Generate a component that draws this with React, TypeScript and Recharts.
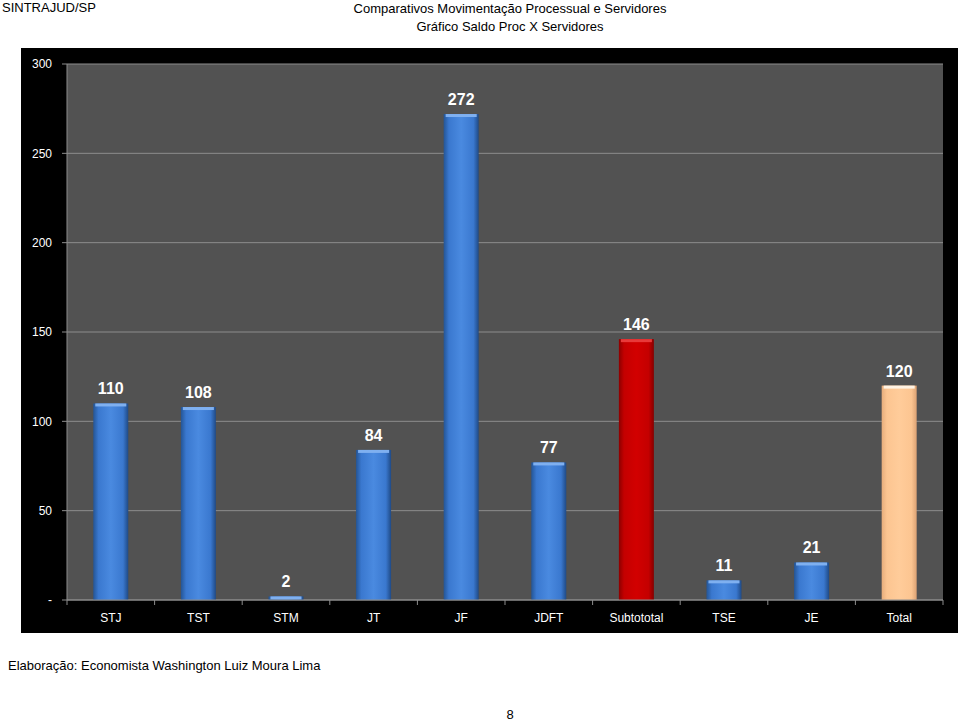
import React from 'react';
import { BarChart, Bar, XAxis, YAxis, CartesianGrid, Cell, LabelList } from 'recharts';

const categories = ['STJ', 'TST', 'STM', 'JT', 'JF', 'JDFT', 'Subtototal', 'TSE', 'JE', 'Total'];
const saldo = [110, 108, 2, 84, 272, 77, 146, 11, 21, 120];
const yTicks = [0, 50, 100, 150, 200, 250, 300];

const chartData = categories.map((name, i) => ({ name, saldo: saldo[i] }));

// gradient id per bar: red for the subtotal, peach for the total, blue otherwise
const gradFor = (name: string) =>
  name === 'Subtototal' ? 'gRed' : name === 'Total' ? 'gPeach' : 'gBlue';

const topFor = (name: string) =>
  name === 'Subtototal' ? '#e83a3a' : name === 'Total' ? '#fff3e4' : '#7fb0f0';

const font = '"Liberation Sans", Arial, sans-serif';

const BarShape = (props: any) => {
  const { x, y, width, height, payload } = props;
  if (!height || height <= 0) return null;
  return (
    <g>
      <rect x={x} y={y} width={width} height={height} fill={`url(#${gradFor(payload.name)})`} />
      <rect x={x + 2} y={y} width={Math.max(width - 4, 0)} height={Math.min(3, height)} fill={topFor(payload.name)} />
    </g>
  );
};

const BAND = (943 - 67) / categories.length;

const XTick = (props: any) => {
  const { x, y, payload, index } = props;
  return (
    <g>
      <line x1={x - BAND / 2} y1={y - 8} x2={x - BAND / 2} y2={y - 3} stroke="#8c8c8c" />
      {index === categories.length - 1 && (
        <line x1={x + BAND / 2} y1={y - 8} x2={x + BAND / 2} y2={y - 3} stroke="#8c8c8c" />
      )}
      <text x={x} y={y + 14} textAnchor="middle" fill="#ffffff" fontSize={12} fontFamily={font}>
        {payload.value}
      </text>
    </g>
  );
};

const App = () => (
  <div style={{ position: 'absolute', left: 0, top: 0, width: 960, height: 723, background: '#fff', fontFamily: font }}>
    <div style={{ position: 'absolute', left: 2, top: 0, fontSize: 13, color: '#000' }}>SINTRAJUD/SP</div>
    <div style={{ position: 'absolute', left: 0, width: 1020, top: 0, textAlign: 'center', fontSize: 13, color: '#000', lineHeight: '18px' }}>
      Comparativos Movimentação Processual e Servidores
      <br />
      Gráfico Saldo Proc X Servidores
    </div>
    <div style={{ position: 'absolute', left: 21, top: 48, background: '#000' }}>
      <BarChart
        width={937}
        height={585}
        data={chartData}
        margin={{ top: 16, right: 15, left: 0, bottom: 0 }}
        barCategoryGap="30%"
      >
        <defs>
          <linearGradient id="gBlue" x1="0" y1="0" x2="1" y2="0">
            <stop offset="0%" stopColor="#245596" />
            <stop offset="15%" stopColor="#3a78cf" />
            <stop offset="50%" stopColor="#4a8ae0" />
            <stop offset="85%" stopColor="#3a78cf" />
            <stop offset="100%" stopColor="#1f4a86" />
          </linearGradient>
          <linearGradient id="gRed" x1="0" y1="0" x2="1" y2="0">
            <stop offset="0%" stopColor="#8c0000" />
            <stop offset="15%" stopColor="#c40000" />
            <stop offset="50%" stopColor="#d20000" />
            <stop offset="85%" stopColor="#c40000" />
            <stop offset="100%" stopColor="#860000" />
          </linearGradient>
          <linearGradient id="gPeach" x1="0" y1="0" x2="1" y2="0">
            <stop offset="0%" stopColor="#e6ad7c" />
            <stop offset="15%" stopColor="#fcc591" />
            <stop offset="50%" stopColor="#ffcc9a" />
            <stop offset="85%" stopColor="#fcc591" />
            <stop offset="100%" stopColor="#dca274" />
          </linearGradient>
        </defs>
        <CartesianGrid vertical={false} fill="#525252" stroke="#8c8c8c" />
        <XAxis
          dataKey="name"
          height={33}
          stroke="#8c8c8c"
          tickLine={false}
          interval={0}
          tick={<XTick />}
        />
        <YAxis
          width={46}
          domain={[0, 300]}
          ticks={yTicks}
          stroke="#8c8c8c"
          tickSize={5}
          tickMargin={10}
          tick={{ fill: '#ffffff', fontSize: 12, fontFamily: font }}
          tickFormatter={(v: number) => (v === 0 ? '-' : String(v))}
        />
        <Bar dataKey="saldo" isAnimationActive={false} shape={<BarShape />}>
          {chartData.map((d) => (
            <Cell key={d.name} fill={`url(#${gradFor(d.name)})`} />
          ))}
          <LabelList
            dataKey="saldo"
            position="top"
            offset={9}
            fill="#ffffff"
            fontSize={16}
            fontWeight="bold"
            fontFamily={font}
          />
        </Bar>
      </BarChart>
    </div>
    <div style={{ position: 'absolute', left: 8, top: 658, fontSize: 13, color: '#000' }}>
      Elaboração: Economista Washington Luiz Moura Lima
    </div>
    <div style={{ position: 'absolute', left: 0, width: 1020, top: 707, textAlign: 'center', fontSize: 13, color: '#000' }}>8</div>
  </div>
);

export default App;
